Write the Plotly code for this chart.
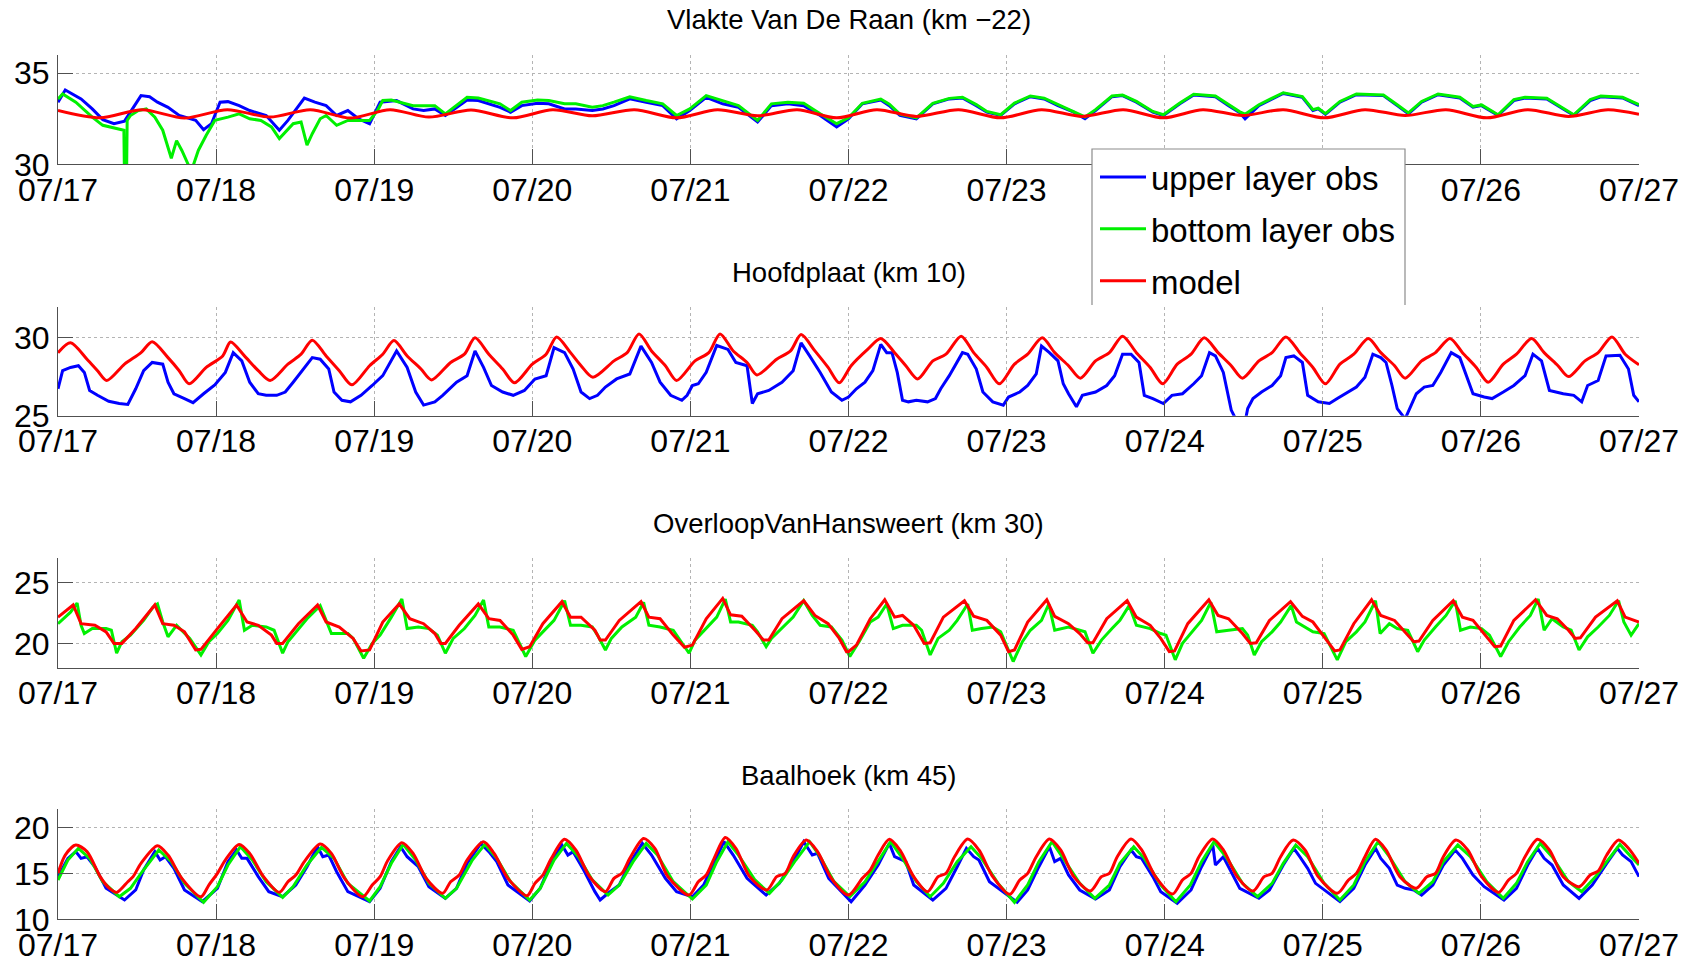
import pandas as pd
import plotly.graph_objects as go

FONT = "Liberation Sans, Arial, Helvetica, sans-serif"
BASE = pd.Timestamp("2013-07-17")
TICK_LABELS = ["07/17", "07/18", "07/19", "07/20", "07/21", "07/22",
               "07/23", "07/24", "07/25", "07/26", "07/27"]
TITLES = ["Vlakte Van De Raan (km \u221222)", "Hoofdplaat (km 10)",
          "OverloopVanHansweert (km 30)", "Baalhoek (km 45)"]
Y_RANGES = [[30, 36], [25, 32], [18, 27], [10, 22]]
Y_TICKS = [[30, 35], [25, 30], [20, 25], [10, 15, 20]]
LEGEND_NAMES = ["upper layer obs", "bottom layer obs", "model"]

# (hours since 07/17 00:00, salinity)
P1_UPPER = [(0, 33.41), (1.1, 34.08), (3.5, 33.59), (5.2, 33.04), (6.8, 32.45), (8.5, 32.23), (10.1, 32.37),
            (11.4, 33.13), (12.6, 33.77), (13.9, 33.71), (15.1, 33.41), (16.7, 33.13), (18.4, 32.68), (20.9, 32.41),
            (22.1, 31.90), (23.3, 32.23), (24.6, 33.41), (25.8, 33.44), (27.5, 33.22), (29.1, 32.95), (31.6, 32.68),
            (33.6, 31.87), (34.9, 32.41), (37.4, 33.64), (39.0, 33.41), (40.7, 33.22), (42.3, 32.68), (44.0, 32.95),
            (45.6, 32.50), (47.3, 32.23), (48.9, 33.41), (51.4, 33.50), (53.9, 33.04), (55.5, 32.95), (57.2, 33.04),
            (58.8, 32.68), (60.5, 33.13), (62.1, 33.53), (63.8, 33.50), (65.4, 33.32), (67.1, 33.13), (68.7, 32.86),
            (70.4, 33.22), (72.8, 33.35), (74.5, 33.32), (76.9, 33.04), (78.6, 33.04), (81.1, 32.95), (82.7, 33.04),
            (84.4, 33.22), (86.8, 33.59), (89.3, 33.41), (91.8, 33.22), (93.9, 32.50), (95.9, 32.95), (98.4, 33.68),
            (100.9, 33.32), (103.3, 33.13), (106.2, 32.32), (108.3, 33.22), (110.8, 33.32), (113.2, 33.22),
            (115.7, 32.68), (118.2, 32.05), (120.0, 32.50), (122.1, 33.32), (124.9, 33.53), (126.2, 33.22),
            (127.8, 32.68), (130.3, 32.50), (132.8, 33.32), (135.3, 33.59), (137.3, 33.64), (139.4, 33.22),
            (141.0, 32.86), (143.1, 32.68), (145.2, 33.32), (147.6, 33.71), (149.7, 33.59), (151.8, 33.22),
            (154.2, 32.86), (155.9, 32.50), (157.5, 32.95), (160.0, 33.71), (161.6, 33.77), (163.7, 33.41),
            (166.2, 32.86), (167.8, 32.68), (170.3, 33.32), (172.4, 33.80), (175.7, 33.71), (177.7, 33.22),
            (179.4, 32.83), (180.2, 32.50), (182.3, 33.22), (186.0, 33.89), (188.9, 33.68), (190.5, 32.95),
            (191.3, 33.04), (192.4, 32.74), (194.6, 33.41), (197.1, 33.82), (201.2, 33.77), (203.3, 33.22),
            (205.0, 32.77), (207.0, 33.41), (209.5, 33.82), (212.8, 33.64), (214.8, 33.13), (216.1, 33.22),
            (217.3, 32.95), (218.6, 32.68), (221.0, 33.50), (222.7, 33.64), (226.0, 33.59), (228.5, 33.04),
            (230.1, 32.68), (232.6, 33.50), (234.2, 33.71), (237.5, 33.64), (240.0, 33.22)]

P1_BOTTOM = [(0, 33.59), (0.7, 33.86), (2.7, 33.41), (5.2, 32.59), (6.8, 32.14), (8.5, 32.01), (10.0, 31.87),
             (10.1, 29.0), (10.4, 29.0), (10.5, 32.41), (11.0, 32.68), (12.2, 32.95), (13.4, 33.04), (14.7, 32.59),
             (15.9, 31.87), (17.2, 30.33), (18.0, 31.30), (18.8, 30.76), (20.0, 29.8), (20.4, 29.8), (21.3, 30.76),
             (22.5, 31.59), (23.8, 32.41), (25.8, 32.59), (27.5, 32.77), (29.1, 32.50), (30.8, 32.41), (32.4, 32.05),
             (33.6, 31.41), (35.7, 32.23), (36.9, 32.32), (37.8, 31.05), (38.6, 31.68), (39.8, 32.50), (40.7, 32.68),
             (42.3, 32.14), (44.0, 32.41), (45.6, 32.41), (47.3, 32.41), (48.5, 32.95), (49.3, 33.50), (50.6, 33.53),
             (53.9, 33.22), (55.5, 33.22), (57.2, 33.22), (58.8, 32.77), (60.5, 33.22), (62.1, 33.68), (63.8, 33.64),
             (65.4, 33.50), (67.1, 33.32), (68.7, 32.95), (70.4, 33.41), (72.8, 33.53), (74.5, 33.50), (76.9, 33.32),
             (78.6, 33.32), (81.1, 33.13), (82.7, 33.22), (84.4, 33.41), (86.8, 33.71), (89.3, 33.50), (91.8, 33.32),
             (93.9, 32.68), (95.9, 33.04), (98.4, 33.77), (100.9, 33.50), (103.3, 33.22), (106.2, 32.41),
             (108.3, 33.32), (110.8, 33.41), (113.2, 33.35), (115.7, 32.77), (118.2, 32.23), (120.0, 32.55),
             (122.1, 33.35), (124.9, 33.58), (126.2, 33.30), (127.8, 32.75), (130.3, 32.55), (132.8, 33.35),
             (135.3, 33.62), (137.3, 33.68), (139.4, 33.28), (141.0, 32.90), (143.1, 32.72), (145.2, 33.36),
             (147.6, 33.75), (149.7, 33.63), (151.8, 33.27), (154.2, 32.90), (155.9, 32.60), (157.5, 33.00),
             (160.0, 33.75), (161.6, 33.80), (163.7, 33.45), (166.2, 32.90), (167.8, 32.72), (170.3, 33.36),
             (172.4, 33.84), (175.7, 33.75), (177.7, 33.27), (179.4, 32.88), (180.2, 32.75), (182.3, 33.27),
             (186.0, 33.93), (188.9, 33.72), (190.5, 33.00), (191.3, 33.08), (192.4, 32.78), (194.6, 33.45),
             (197.1, 33.86), (201.2, 33.80), (203.3, 33.27), (205.0, 32.82), (207.0, 33.45), (209.5, 33.86),
             (212.8, 33.68), (214.8, 33.18), (216.1, 33.26), (217.3, 33.00), (218.6, 32.72), (221.0, 33.55),
             (222.7, 33.68), (226.0, 33.63), (228.5, 33.08), (230.1, 32.72), (232.6, 33.55), (234.2, 33.75),
             (237.5, 33.68), (240.0, 33.27)]

P1_MODEL = [(0, 32.95), (6.4, 32.55), (12.8, 33.0), (19.2, 32.54), (25.7, 33.0), (32.2, 32.59), (38.3, 33.0),
            (44.4, 32.54), (50.4, 33.0), (56.3, 32.59), (62.7, 32.98), (69.1, 32.55), (75.1, 33.0), (81.1, 32.66),
            (87.5, 33.0), (93.9, 32.55), (100.1, 33.0), (106.2, 32.66), (112.2, 33.0), (118.2, 32.55), (124.3, 33.0),
            (130.3, 32.63), (136.7, 33.0), (143.1, 32.55), (149.3, 33.0), (155.5, 32.63), (161.7, 33.0),
            (167.8, 32.55), (173.8, 33.0), (179.8, 32.68), (186.0, 33.0), (192.2, 32.55), (198.4, 33.0),
            (204.5, 32.68), (210.7, 33.0), (216.9, 32.55), (223.1, 33.0), (229.3, 32.63), (235.3, 33.0),
            (240.0, 32.75)]

P2_UPPER = [(0, 26.73), (0.7, 27.89), (1.9, 28.10), (3.1, 28.21), (4.0, 27.78), (4.8, 26.62), (6.0, 26.31),
            (7.7, 25.93), (9.3, 25.78), (10.6, 25.72), (11.8, 26.73), (13.0, 27.89), (14.3, 28.42), (15.9, 28.31),
            (16.7, 27.15), (17.6, 26.41), (19.2, 26.10), (20.5, 25.84), (22.1, 26.41), (23.8, 26.98), (25.4, 27.78),
            (26.6, 29.05), (27.9, 28.52), (29.1, 27.15), (30.4, 26.41), (31.6, 26.31), (33.2, 26.31), (34.5, 26.52),
            (35.7, 27.15), (36.9, 27.78), (38.6, 28.73), (39.8, 28.63), (41.1, 28.00), (41.9, 26.52), (43.1, 25.99),
            (44.4, 25.89), (46.0, 26.31), (47.7, 26.94), (49.3, 27.57), (51.4, 29.16), (53.0, 28.10), (54.3, 26.52),
            (55.5, 25.68), (57.2, 25.89), (58.4, 26.31), (60.5, 27.15), (62.1, 27.57), (63.3, 29.16), (64.6, 28.10),
            (65.8, 26.94), (67.5, 26.52), (69.1, 26.31), (70.8, 26.62), (72.4, 27.36), (74.1, 27.57), (75.3, 29.37),
            (76.9, 29.05), (78.2, 28.00), (79.4, 26.52), (80.7, 26.10), (81.9, 26.31), (83.1, 26.84), (84.8, 27.36),
            (86.8, 27.68), (88.5, 29.47), (90.1, 28.42), (91.4, 27.15), (93.0, 26.31), (94.7, 25.99), (95.5, 26.31),
            (96.3, 26.94), (97.2, 27.05), (98.4, 27.78), (100.0, 29.51), (101.7, 29.26), (102.9, 28.42),
            (104.6, 28.21), (105.4, 25.78), (106.2, 26.41), (107.9, 26.62), (109.9, 27.15), (111.6, 27.89),
            (112.8, 29.68), (114.1, 28.84), (115.7, 27.78), (117.4, 26.52), (119.0, 25.99), (120.0, 26.20),
            (121.2, 26.73), (122.5, 27.15), (123.7, 27.89), (124.9, 29.58), (125.8, 29.05), (126.6, 29.05),
            (127.4, 27.78), (128.2, 25.99), (129.1, 25.89), (130.3, 25.99), (132.0, 25.89), (133.2, 26.10),
            (134.0, 26.73), (135.3, 27.57), (136.5, 28.42), (137.3, 29.05), (138.1, 28.95), (139.4, 28.00),
            (140.4, 26.52), (141.9, 25.89), (143.5, 25.68), (144.3, 26.20), (146.0, 26.52), (147.2, 26.94),
            (148.5, 27.68), (149.3, 29.47), (150.5, 29.05), (151.8, 28.52), (152.6, 27.05), (153.4, 26.41),
            (154.6, 25.57), (155.5, 26.31), (157.5, 26.52), (159.2, 26.94), (160.4, 27.57), (161.6, 28.95),
            (162.9, 28.95), (164.1, 28.42), (164.9, 26.31), (166.2, 26.10), (167.8, 25.78), (169.1, 26.31),
            (170.7, 26.41), (172.4, 27.05), (173.6, 27.57), (174.8, 29.05), (175.7, 28.84), (176.9, 27.78),
            (178.1, 25.36), (179.0, 24.60), (180.2, 24.60), (180.6, 25.46), (181.4, 26.10), (182.7, 26.52),
            (184.3, 26.94), (185.6, 27.57), (186.4, 28.73), (187.6, 28.84), (188.9, 28.42), (189.7, 26.31),
            (191.3, 25.89), (193.0, 25.78), (194.2, 26.10), (195.9, 26.52), (197.1, 26.84), (198.4, 27.47),
            (199.6, 28.95), (200.8, 28.73), (201.6, 28.42), (202.5, 26.94), (203.3, 25.46), (204.5, 24.80),
            (205.4, 25.68), (206.2, 26.41), (207.4, 26.84), (208.7, 26.94), (209.9, 27.78), (211.5, 29.05),
            (212.8, 28.73), (214.0, 27.36), (214.8, 26.41), (216.5, 26.20), (217.7, 26.10), (219.4, 26.52),
            (221.0, 26.94), (222.7, 27.57), (223.9, 28.95), (225.2, 28.52), (226.4, 26.62), (228.5, 26.41),
            (230.1, 26.31), (231.3, 25.89), (232.2, 26.94), (233.8, 27.26), (235.0, 28.84), (237.1, 28.88),
            (238.4, 28.00), (239.2, 26.31), (240.0, 25.89)]

P2_MODEL = [(0, 29.05), (1.9, 29.68), (4.4, 28.63), (6.0, 27.89), (7.4, 27.26), (10.1, 28.31), (12.6, 29.05),
            (14.3, 29.75), (16.7, 28.73), (18.4, 27.89), (19.9, 27.05), (22.5, 28.10), (25.0, 28.84), (26.2, 29.73),
            (28.3, 28.84), (30.4, 27.89), (32.2, 27.26), (34.9, 28.31), (36.9, 28.95), (38.6, 29.85), (40.7, 28.84),
            (42.7, 27.89), (44.6, 26.98), (47.3, 28.21), (49.3, 28.95), (51.0, 29.83), (53.0, 28.84), (55.1, 28.00),
            (56.7, 27.30), (59.6, 28.42), (61.7, 28.95), (63.3, 30.00), (65.4, 28.95), (67.5, 28.00), (69.3, 27.11),
            (72.0, 28.31), (74.1, 28.95), (75.7, 30.06), (77.8, 29.05), (79.4, 28.21), (81.2, 27.47), (84.4, 28.52),
            (86.4, 29.05), (88.2, 30.25), (90.1, 29.16), (92.2, 28.21), (93.9, 27.26), (96.7, 28.52), (98.8, 29.05),
            (100.5, 30.25), (102.5, 29.16), (104.6, 28.42), (106.1, 27.62), (109.1, 28.63), (111.2, 29.16),
            (112.8, 30.21), (114.9, 29.16), (116.9, 28.10), (118.6, 27.11), (120.4, 28.21), (122.9, 29.26),
            (124.9, 29.96), (127.0, 29.05), (128.7, 28.21), (130.5, 27.36), (132.8, 28.52), (134.8, 28.95),
            (137.1, 30.11), (139.0, 29.05), (141.0, 28.10), (142.9, 27.05), (145.2, 28.31), (147.2, 28.95),
            (149.4, 30.00), (151.3, 29.05), (153.4, 28.21), (155.2, 27.41), (157.5, 28.52), (159.6, 29.05),
            (161.6, 30.11), (163.7, 29.05), (165.8, 28.10), (167.7, 27.05), (169.9, 28.31), (172.0, 28.95),
            (174.0, 30.00), (176.1, 29.05), (178.1, 28.21), (179.8, 27.41), (182.3, 28.52), (184.3, 29.05),
            (186.4, 30.06), (188.5, 29.05), (190.5, 28.10), (192.4, 27.05), (194.6, 28.31), (196.7, 28.95),
            (198.9, 29.96), (200.8, 29.05), (202.9, 28.21), (204.5, 27.41), (207.0, 28.52), (209.1, 29.05),
            (211.3, 29.96), (213.2, 29.05), (215.3, 28.10), (217.1, 27.15), (219.4, 28.31), (221.4, 28.95),
            (223.7, 29.96), (225.6, 29.05), (227.7, 28.21), (229.3, 27.51), (231.8, 28.52), (233.8, 29.05),
            (235.9, 30.06), (237.9, 28.95), (240.0, 28.27)]

P3_BOTTOM = [(0, 21.62), (1.9, 22.57), (2.9, 23.32), (3.5, 21.49), (4.0, 20.81), (5.2, 21.22), (7.3, 21.22),
             (8.1, 21.08), (8.9, 19.19), (9.7, 20.14), (11.0, 20.68), (13.0, 21.89), (14.4, 22.97), (15.1, 23.24),
             (15.9, 21.76), (16.7, 20.54), (18.0, 21.49), (18.8, 21.08), (20.0, 20.41), (21.7, 19.05), (22.9, 20.14),
             (24.2, 20.81), (25.8, 21.89), (27.5, 23.57), (28.3, 21.08), (29.5, 21.49), (31.6, 21.35), (32.8, 21.08),
             (34.1, 19.19), (34.9, 20.14), (36.1, 20.95), (37.8, 22.03), (39.8, 23.11), (40.7, 21.89), (41.5, 20.81),
             (42.7, 20.81), (44.0, 20.81), (44.8, 20.41), (46.4, 18.78), (47.7, 20.00), (48.9, 20.68), (50.6, 22.16),
             (52.2, 23.65), (53.0, 21.22), (54.7, 21.35), (56.3, 21.22), (57.6, 20.68), (58.8, 19.19), (60.0, 20.41),
             (61.7, 21.22), (63.3, 22.30), (64.6, 23.57), (65.4, 21.35), (67.1, 21.35), (69.1, 21.08), (71.0, 18.92),
             (72.4, 20.27), (73.6, 20.95), (75.3, 21.89), (76.9, 23.51), (77.8, 21.49), (79.4, 21.49), (81.1, 21.35),
             (81.9, 20.68), (83.1, 19.46), (84.0, 20.41), (85.6, 21.35), (87.7, 22.16), (88.9, 23.38), (89.7, 21.49),
             (91.4, 21.35), (93.4, 21.08), (95.8, 19.19), (96.7, 20.27), (98.4, 21.22), (100.0, 22.16),
             (101.3, 23.65), (102.1, 21.76), (103.3, 21.76), (105.4, 21.49), (106.2, 20.95), (107.5, 19.73),
             (108.3, 20.41), (109.9, 21.22), (111.6, 22.16), (113.2, 23.51), (114.5, 22.30), (115.7, 21.49),
             (117.4, 21.35), (119.0, 20.27), (120.2, 18.92), (121.6, 20.14), (123.3, 21.76), (124.5, 22.16),
             (125.8, 23.24), (126.8, 21.22), (128.2, 21.49), (130.3, 21.49), (131.1, 21.08), (132.4, 19.05),
             (133.6, 20.41), (135.3, 21.08), (136.5, 21.89), (138.1, 23.24), (138.8, 21.08), (140.2, 21.22),
             (141.9, 21.35), (143.1, 20.95), (145.0, 18.51), (146.4, 20.14), (147.6, 21.08), (149.3, 21.89),
             (150.4, 23.24), (151.3, 21.08), (153.4, 21.35), (155.1, 21.08), (155.9, 20.95), (157.1, 19.19),
             (158.4, 20.27), (160.0, 21.22), (161.2, 21.89), (162.6, 23.11), (163.7, 21.49), (165.8, 21.22),
             (167.4, 20.81), (168.2, 20.68), (169.6, 18.65), (170.7, 20.00), (171.9, 20.81), (173.6, 21.89),
             (175.0, 23.38), (175.9, 20.95), (177.7, 21.08), (179.8, 21.22), (180.6, 20.68), (181.6, 19.05),
             (182.7, 20.14), (184.3, 20.95), (185.6, 21.76), (187.2, 23.11), (188.0, 21.76), (189.3, 21.35),
             (190.5, 20.95), (192.2, 20.81), (194.2, 18.65), (195.5, 20.14), (197.1, 20.95), (198.4, 21.76),
             (200.0, 23.51), (200.7, 20.81), (202.1, 21.62), (203.3, 21.22), (204.9, 21.08), (206.4, 19.32),
             (207.4, 20.27), (209.1, 21.35), (210.7, 22.30), (212.1, 23.51), (212.9, 21.08), (214.4, 21.35),
             (216.1, 21.22), (217.3, 20.68), (219.0, 18.92), (220.2, 20.14), (221.9, 21.35), (223.5, 22.30),
             (224.7, 23.65), (225.6, 21.08), (226.8, 22.03), (228.5, 21.35), (229.7, 21.08), (230.9, 19.46),
             (232.2, 20.54), (233.8, 21.35), (235.5, 22.30), (236.9, 23.51), (237.7, 21.76), (238.8, 20.68),
             (240.0, 21.62)]

P3_MODEL = [(0, 22.16), (2.3, 23.16), (3.5, 21.62), (5.6, 21.49), (7.3, 20.95), (8.5, 20.00), (9.7, 20.00),
            (11.8, 21.22), (14.7, 23.16), (15.9, 21.62), (17.6, 21.49), (19.2, 20.95), (20.9, 19.46), (21.7, 19.51),
            (24.2, 21.22), (27.1, 23.16), (28.7, 21.76), (30.4, 21.49), (32.4, 20.68), (33.2, 20.00), (34.1, 20.00),
            (36.5, 21.62), (39.4, 23.16), (40.7, 21.76), (42.7, 21.35), (44.8, 20.41), (46.0, 19.38), (47.3, 19.46),
            (49.3, 21.76), (51.8, 23.24), (53.4, 22.03), (55.5, 21.62), (57.2, 20.81), (58.1, 20.00), (58.8, 20.00),
            (60.9, 21.49), (63.8, 23.24), (65.4, 22.03), (67.1, 21.89), (69.1, 20.68), (70.4, 19.51), (71.6, 19.73),
            (73.6, 21.62), (76.5, 23.43), (77.8, 22.16), (79.4, 22.16), (81.5, 21.08), (82.3, 20.27), (83.1, 20.27),
            (85.2, 21.89), (88.5, 23.43), (89.7, 22.16), (91.4, 22.03), (93.4, 20.68), (95.1, 19.68), (96.3, 19.86),
            (98.4, 22.03), (100.9, 23.70), (102.1, 22.35), (103.8, 22.24), (105.8, 21.08), (107.1, 20.27),
            (107.9, 20.27), (109.9, 22.03), (113.2, 23.51), (114.9, 22.30), (116.9, 21.62), (118.6, 20.41),
            (119.7, 19.32), (120.0, 19.32), (121.2, 19.86), (123.3, 22.03), (125.5, 23.59), (127.0, 22.16),
            (128.2, 22.30), (129.9, 21.49), (131.5, 20.00), (132.4, 20.05), (134.4, 22.16), (137.6, 23.51),
            (139.0, 22.24), (141.0, 21.89), (143.1, 20.68), (144.3, 19.32), (145.2, 19.46), (147.2, 21.76),
            (150.1, 23.59), (151.3, 22.22), (153.4, 21.62), (155.1, 20.81), (156.3, 20.05), (157.1, 20.05),
            (159.2, 22.03), (162.3, 23.51), (163.7, 22.16), (165.8, 21.49), (167.4, 20.41), (168.7, 19.32),
            (169.5, 19.38), (171.5, 21.62), (174.7, 23.59), (176.1, 22.30), (177.7, 22.03), (179.8, 20.81),
            (181.0, 20.00), (181.9, 20.05), (183.9, 21.89), (187.1, 23.43), (188.9, 22.22), (190.5, 21.76),
            (192.2, 20.54), (193.8, 19.38), (194.6, 19.46), (196.7, 21.62), (199.4, 23.59), (200.8, 22.30),
            (202.9, 21.89), (204.9, 20.68), (205.8, 20.14), (206.6, 20.19), (208.7, 21.89), (211.8, 23.51),
            (213.2, 22.16), (214.8, 21.89), (216.5, 20.81), (218.1, 19.73), (219.0, 19.78), (221.0, 21.89),
            (224.3, 23.59), (226.0, 22.30), (227.6, 22.03), (229.3, 21.08), (230.3, 20.41), (231.1, 20.46),
            (233.4, 22.16), (236.7, 23.51), (237.9, 22.16), (240.0, 21.76)]

P4_UPPER = [(0, 14.64), (1.5, 16.63), (2.7, 17.36), (3.5, 16.63), (4.4, 16.81), (5.6, 15.72), (7.3, 13.37),
            (10.1, 12.10), (11.8, 13.19), (13.0, 15.36), (14.7, 17.36), (15.5, 16.45), (16.3, 16.81), (17.6, 15.54),
            (19.2, 13.19), (21.9, 11.92), (24.2, 13.37), (25.8, 16.27), (27.1, 17.54), (27.9, 16.63), (28.7, 16.63),
            (30.4, 14.64), (32.0, 13.01), (34.1, 12.46), (36.1, 13.73), (37.8, 15.72), (39.4, 17.90), (40.2, 16.81),
            (41.1, 16.99), (42.3, 15.18), (44.0, 13.01), (47.3, 11.92), (48.9, 13.37), (50.6, 16.27), (52.0, 17.90),
            (53.0, 16.81), (54.7, 15.72), (56.3, 13.55), (58.8, 12.28), (60.5, 13.37), (62.1, 16.09), (64.2, 18.26),
            (65.4, 17.36), (66.6, 16.27), (68.3, 13.73), (71.6, 11.99), (73.2, 13.37), (74.9, 16.27), (76.5, 18.08),
            (77.4, 16.99), (78.2, 17.36), (79.8, 15.36), (81.5, 13.01), (82.3, 12.10), (83.5, 12.83), (85.2, 13.73),
            (86.8, 16.09), (88.7, 18.26), (90.1, 16.99), (92.2, 14.46), (93.9, 13.01), (96.3, 12.46), (98.0, 13.73),
            (99.6, 16.09), (101.1, 18.44), (102.5, 16.99), (104.6, 14.46), (107.5, 12.64), (109.5, 13.91),
            (111.6, 16.27), (113.2, 18.44), (114.5, 16.99), (115.3, 17.17), (117.0, 14.46), (120.4, 11.92),
            (122.5, 13.73), (124.5, 15.91), (126.2, 18.26), (127.0, 16.81), (128.7, 16.27), (129.9, 13.73),
            (132.8, 12.10), (134.8, 13.37), (136.5, 15.72), (137.9, 17.72), (139.0, 16.81), (139.8, 16.45),
            (141.4, 14.09), (145.6, 11.85), (147.2, 13.19), (148.9, 15.72), (150.5, 17.90), (151.3, 16.27),
            (152.2, 16.63), (153.4, 14.82), (155.1, 13.19), (157.5, 12.21), (159.6, 13.19), (161.2, 15.72),
            (162.9, 17.54), (163.7, 16.81), (164.5, 16.63), (166.2, 14.64), (167.4, 13.01), (169.9, 11.74),
            (172.0, 13.19), (173.6, 15.72), (175.3, 18.08), (175.7, 15.91), (176.9, 16.81), (178.1, 15.18),
            (179.4, 13.37), (182.3, 12.28), (183.9, 13.19), (186.0, 15.91), (187.6, 17.72), (188.5, 16.81),
            (189.7, 15.54), (190.9, 13.91), (194.6, 11.92), (196.7, 13.37), (198.4, 15.91), (200.0, 17.72),
            (200.8, 16.63), (202.1, 15.54), (203.3, 13.73), (204.5, 13.37), (205.8, 13.19), (207.0, 12.64),
            (208.7, 13.73), (210.3, 15.91), (212.1, 17.54), (213.2, 16.63), (214.8, 14.82), (216.5, 13.55),
            (219.5, 12.10), (221.4, 13.37), (223.1, 15.91), (224.6, 17.72), (225.6, 16.63), (226.8, 15.91),
            (228.5, 13.73), (230.9, 12.28), (232.9, 13.73), (235.1, 16.09), (236.7, 17.72), (237.5, 16.99),
            (238.8, 16.27), (240.0, 14.64)]

P4_BOTTOM = [(0, 14.28), (1.5, 16.45), (3.1, 17.72), (4.8, 16.63), (6.8, 14.09), (9.3, 12.46), (11.0, 13.37),
             (12.6, 15.00), (15.3, 17.54), (17.2, 16.27), (19.2, 13.91), (22.1, 11.85), (24.2, 13.55), (25.8, 15.91),
             (27.7, 17.90), (29.5, 16.45), (31.6, 14.09), (34.1, 12.39), (35.7, 13.55), (37.8, 15.91), (40.0, 17.83),
             (41.9, 16.63), (44.0, 13.91), (47.3, 11.99), (48.9, 13.55), (50.6, 16.09), (52.4, 18.15), (54.3, 16.45),
             (56.3, 13.91), (58.8, 12.28), (60.5, 13.37), (62.9, 16.45), (64.8, 18.15), (66.6, 16.63), (68.7, 14.09),
             (71.6, 12.10), (73.2, 13.37), (75.3, 16.45), (77.2, 18.26), (79.0, 16.81), (81.1, 14.28), (83.5, 12.64),
             (85.2, 13.73), (87.3, 16.27), (89.3, 18.26), (91.0, 16.99), (93.4, 14.09), (96.3, 12.21), (98.4, 13.73),
             (100.0, 16.27), (101.7, 18.44), (103.3, 16.99), (105.8, 14.28), (108.0, 12.83), (109.9, 14.28),
             (112.0, 16.45), (114.1, 18.44), (115.7, 16.81), (117.8, 14.09), (120.2, 12.46), (122.5, 14.09),
             (124.5, 16.27), (126.4, 18.44), (128.2, 16.63), (130.3, 14.09), (132.4, 12.46), (134.4, 13.91),
             (136.5, 16.27), (138.6, 17.90), (140.2, 16.63), (142.7, 13.91), (145.2, 11.85), (147.2, 13.73),
             (148.9, 16.27), (150.9, 18.44), (152.6, 16.63), (155.1, 13.91), (157.4, 12.28), (159.6, 13.73),
             (161.2, 16.09), (163.3, 17.90), (164.9, 16.63), (167.4, 13.73), (169.7, 11.92), (171.9, 13.73),
             (173.6, 16.27), (175.5, 18.44), (177.3, 16.81), (179.8, 13.91), (182.1, 12.46), (184.3, 13.91),
             (186.0, 16.09), (187.9, 18.08), (189.7, 16.81), (192.2, 13.91), (194.6, 12.10), (196.7, 13.73),
             (198.4, 16.27), (200.4, 18.44), (202.1, 16.81), (204.5, 14.09), (206.6, 12.83), (208.7, 14.09),
             (210.3, 16.27), (212.5, 18.08), (214.4, 16.81), (216.9, 14.09), (219.4, 12.28), (221.4, 13.91),
             (223.1, 16.27), (225.0, 18.26), (226.8, 16.81), (229.3, 14.09), (231.3, 13.01), (233.4, 14.64),
             (235.1, 16.27), (237.1, 18.15), (238.8, 16.81), (240.0, 15.91)]

P4_MODEL = [(0, 15.00), (1.1, 16.99), (2.7, 18.08), (4.4, 17.36), (6.4, 14.64), (7.7, 13.44), (8.9, 12.93),
            (10.6, 14.09), (11.4, 14.64), (12.6, 16.09), (15.1, 18.01), (16.7, 16.99), (18.8, 14.46), (21.7, 12.46),
            (22.9, 13.73), (24.2, 15.00), (25.4, 16.45), (27.5, 18.15), (29.1, 17.17), (31.2, 14.64), (33.6, 12.93),
            (34.9, 14.09), (36.1, 14.82), (37.4, 16.27), (39.8, 18.19), (41.5, 17.17), (43.5, 14.46), (46.3, 12.46),
            (47.7, 13.73), (48.9, 14.64), (50.1, 16.45), (52.2, 18.33), (53.9, 17.17), (55.9, 14.46), (58.4, 12.83),
            (59.6, 14.09), (60.9, 14.82), (62.1, 16.45), (64.6, 18.44), (66.2, 17.17), (68.3, 14.46), (71.2, 12.57),
            (72.4, 13.91), (73.6, 14.82), (74.9, 16.63), (76.9, 18.70), (78.6, 17.54), (80.7, 14.64), (83.1, 13.01),
            (84.4, 14.46), (85.6, 15.00), (86.8, 16.63), (88.9, 18.80), (90.6, 17.72), (92.6, 14.64), (95.8, 12.64),
            (97.2, 14.09), (98.4, 14.82), (99.6, 16.63), (101.3, 18.91), (102.9, 17.72), (105.0, 14.64),
            (107.6, 13.19), (109.1, 14.64), (110.4, 15.00), (111.6, 16.81), (113.6, 18.62), (115.3, 17.36),
            (117.4, 14.46), (120.0, 12.64), (122.1, 14.46), (123.3, 15.36), (124.5, 16.99), (126.2, 18.70),
            (127.8, 17.54), (129.9, 14.64), (132.0, 13.01), (133.6, 14.64), (134.8, 15.00), (136.1, 16.81),
            (138.1, 18.73), (139.8, 17.54), (141.9, 14.64), (144.5, 12.72), (146.0, 14.28), (147.2, 15.00),
            (148.5, 16.81), (150.5, 18.73), (152.2, 17.54), (154.2, 14.64), (156.7, 13.08), (158.4, 14.64),
            (159.6, 15.00), (160.8, 16.81), (162.9, 18.73), (164.5, 17.54), (166.6, 14.64), (169.2, 12.75),
            (170.7, 14.28), (172.0, 15.00), (173.2, 16.81), (175.3, 18.73), (176.9, 17.54), (179.0, 14.64),
            (181.4, 13.08), (183.1, 14.64), (184.3, 15.00), (185.6, 16.81), (187.5, 18.62), (189.3, 17.54),
            (191.3, 14.64), (194.2, 12.83), (195.9, 14.28), (197.1, 15.00), (198.4, 16.81), (200.0, 18.70),
            (201.6, 17.54), (203.7, 14.64), (206.2, 13.37), (207.8, 14.64), (209.1, 15.00), (210.3, 16.81),
            (212.2, 18.62), (214.0, 17.54), (216.1, 14.64), (218.7, 12.93), (220.2, 14.28), (221.4, 15.00),
            (222.7, 16.81), (224.6, 18.70), (226.4, 17.54), (228.5, 14.64), (230.9, 13.55), (232.6, 14.82),
            (233.8, 15.25), (235.1, 16.99), (236.9, 18.62), (238.4, 17.72), (240.0, 16.09)]

COLORS = {"upper": "#0000ff", "bottom": "#00f000", "model": "#ff0000"}

PANELS = [
    [("upper", P1_UPPER), ("bottom", P1_BOTTOM), ("model", P1_MODEL)],
    [("upper", P2_UPPER), ("model", P2_MODEL)],
    [("bottom", P3_BOTTOM), ("model", P3_MODEL)],
    [("upper", P4_UPPER), ("bottom", P4_BOTTOM), ("model", P4_MODEL)],
]
NAME_OF = {"upper": LEGEND_NAMES[0], "bottom": LEGEND_NAMES[1], "model": LEGEND_NAMES[2]}

W, H = 1693, 961
OFF = 8  # the page places the figure 8 px in from the top-left corner
X_LEFT, X_RIGHT = 58 - OFF, 1639 - OFF
PANEL_PIX = [(55 - OFF, 164.3 - OFF), (306.7 - OFF, 415.7 - OFF),
             (558.3 - OFF, 667.7 - OFF), (809 - OFF, 919.3 - OFF)]
TITLE_PIX = [19.5 - OFF, 272.1 - OFF, 523.7 - OFF, 775.2 - OFF]


def to_time(hours):
    return [BASE + pd.Timedelta(hours=h) for h in hours]


fig = go.Figure()
for i, panel in enumerate(PANELS):
    ax = "" if i == 0 else str(i + 1)
    for key, series in panel:
        hrs = [p[0] for p in series]
        vals = [p[1] for p in series]
        if key == "model" and i != 2:
            line = dict(color=COLORS[key], width=3, shape="spline", smoothing=0.8)
        else:
            line = dict(color=COLORS[key], width=3)
        fig.add_trace(go.Scatter(
            x=to_time(hrs), y=vals, mode="lines", line=line,
            name=NAME_OF[key], showlegend=(i == 0), legendgroup=key,
            xaxis="x" + ax, yaxis="y" + ax, hoverinfo="skip"))

tickvals = [BASE + pd.Timedelta(days=k) for k in range(len(TICK_LABELS))]
axis_common = dict(showline=True, linecolor="#505050", linewidth=1, mirror=False,
                   ticks="inside", ticklen=15, tickcolor="#505050", tickwidth=1,
                   showgrid=True, gridcolor="#b4b4b4", griddash="dot", gridwidth=1,
                   zeroline=False, automargin=False,
                   tickfont=dict(family=FONT, size=32, color="black"))

layout = dict(width=W, height=H, autosize=False,
              margin=dict(l=0, r=0, t=0, b=0, pad=0),
              paper_bgcolor="white", plot_bgcolor="white",
              font=dict(family=FONT, color="black"))
annotations = []
for i in range(4):
    ax = "" if i == 0 else str(i + 1)
    top, bot = PANEL_PIX[i]
    layout["xaxis" + ax] = dict(axis_common, type="date",
                                domain=[X_LEFT / W, X_RIGHT / W],
                                range=[tickvals[0], tickvals[-1]],
                                tickvals=tickvals, ticktext=TICK_LABELS,
                                ticklabelstandoff=-3,
                                anchor="y" + ax)
    layout["yaxis" + ax] = dict(axis_common, domain=[1 - bot / H, 1 - top / H],
                                range=Y_RANGES[i], tickvals=Y_TICKS[i],
                                ticktext=[str(v) for v in Y_TICKS[i]],
                                ticklabelstandoff=1,
                                anchor="x" + ax)
    annotations.append(dict(text=TITLES[i], xref="paper", yref="paper",
                            x=(X_LEFT + X_RIGHT) / 2 / W, y=1 - TITLE_PIX[i] / H,
                            xanchor="center", yanchor="middle", showarrow=False,
                            font=dict(family=FONT, size=27.5, color="black")))
layout["annotations"] = annotations

# legend box (white backing + three-sided frame, bottom hidden by panel 2)
LX0, LX1, LY0, LY1 = 1092 - OFF, 1405 - OFF, 149 - OFF, 305 - OFF
layout["shapes"] = [
    dict(type="rect", xref="paper", yref="paper", layer="above",
         x0=LX0 / W, x1=LX1 / W, y0=1 - LY1 / H, y1=1 - LY0 / H,
         fillcolor="white", line=dict(width=0)),
    dict(type="path", xref="paper", yref="paper", layer="above",
         path=f"M {LX0 / W},{1 - LY1 / H} L {LX0 / W},{1 - LY0 / H} L {LX1 / W},{1 - LY0 / H} L {LX1 / W},{1 - LY1 / H}",
         line=dict(color="#8c8c8c", width=1.2)),
]
layout["legend"] = dict(x=(LX0 + 3) / W, y=1 - LY0 / H, xanchor="left", yanchor="top",
                        bgcolor="rgba(0,0,0,0)", borderwidth=0,
                        font=dict(family=FONT, size=33, color="black"),
                        itemwidth=46, tracegroupgap=6, traceorder="grouped")

fig.update_layout(**layout)
fig.write_html("out.html")
